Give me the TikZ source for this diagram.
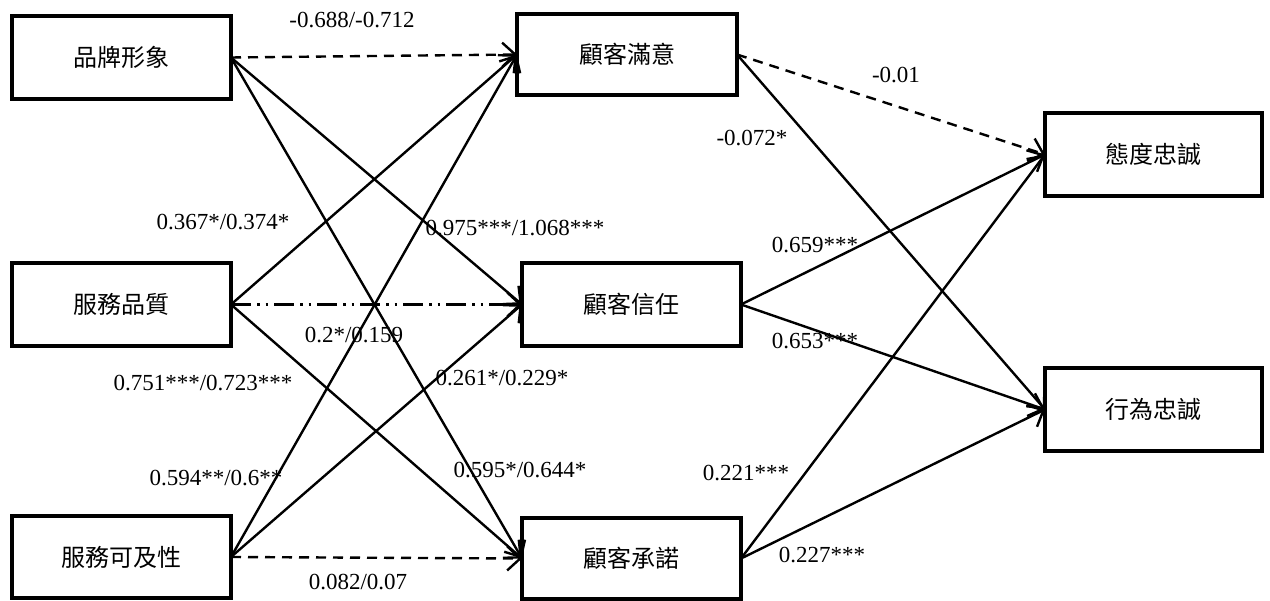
\documentclass[tikz,border=0pt]{standalone}
\usepackage{fontspec}
\setmainfont{Liberation Serif}
\newfontfamily\cjk{Noto Sans CJK TC}
\usetikzlibrary{arrows.meta}
\begin{document}
\begin{tikzpicture}[x=1pt,y=-1pt,
  box/.style={draw,line width=4pt,inner sep=0pt,outer sep=0pt,font=\cjk\fontsize{24}{28}\selectfont},
  lab/.style={font=\fontsize{23}{26}\selectfont,inner sep=0pt},
  conn/.style={line width=2.4pt,-{Straight Barb[length=13pt,width=24pt,line width=2.4pt]}},
  dsh/.style={conn,dash pattern=on 10pt off 7pt},
  ddot/.style={conn,dash pattern=on 20pt off 6pt on 2.5pt off 6pt on 2.5pt off 6pt}]
\useasboundingbox (0,0) rectangle (1270,601);
% boxes
\node[box,minimum width=219pt,minimum height=83pt] (A) at (121.5,57.5) {品牌形象};
\node[box,minimum width=219pt,minimum height=83pt] (B) at (121.5,304.5) {服務品質};
\node[box,minimum width=219pt,minimum height=82pt] (C) at (121.5,557) {服務可及性};
\node[box,minimum width=220pt,minimum height=81pt] (D) at (627,54.5) {顧客滿意};
\node[box,minimum width=219pt,minimum height=83pt] (E) at (631.5,304.5) {顧客信任};
\node[box,minimum width=219pt,minimum height=81pt] (F) at (631.5,558.5) {顧客承諾};
\node[box,minimum width=217pt,minimum height=83pt] (G) at (1153.5,154.5) {態度忠誠};
\node[box,minimum width=217pt,minimum height=83pt] (H) at (1153.5,409.5) {行為忠誠};
% connectors
\draw[dsh] (A.east) -- (D.west);
\draw[conn] (A.east) -- (E.west);
\draw[conn] (A.east) -- (F.west);
\draw[conn] (B.east) -- (D.west);
\draw[ddot] (B.east) -- (E.west);
\draw[conn] (B.east) -- (F.west);
\draw[conn] (C.east) -- (D.west);
\draw[conn] (C.east) -- (E.west);
\draw[dsh] (C.east) -- (F.west);
\draw[dsh] (D.east) -- (G.west);
\draw[conn] (D.east) -- (H.west);
\draw[conn] (E.east) -- (G.west);
\draw[conn] (E.east) -- (H.west);
\draw[conn] (F.east) -- (G.west);
\draw[conn] (F.east) -- (H.west);
% labels
\node[lab] (l1) at (352,20) {-0.688/-0.712};
\node[lab] (l2) at (515,228) {0.975***/1.068***};
\node[lab] (l3) at (520,470) {0.595*/0.644*};
\node[lab] (l4) at (223,222) {0.367*/0.374*};
\node[lab] (l5) at (354,335) {0.2*/0.159};
\node[lab] (l6) at (203,383) {0.751***/0.723***};
\node[lab] (l7) at (216,478) {0.594**/0.6**};
\node[lab] (l8) at (502,378) {0.261*/0.229*};
\node[lab] (l9) at (358,582) {0.082/0.07};
\node[lab] (l10) at (896,75) {-0.01};
\node[lab] (l11) at (752,138) {-0.072*};
\node[lab] (l12) at (815,245) {0.659***};
\node[lab] (l13) at (815,341) {0.653***};
\node[lab] (l14) at (746,473) {0.221***};
\node[lab] (l15) at (822,555) {0.227***};
\end{tikzpicture}
\end{document}
